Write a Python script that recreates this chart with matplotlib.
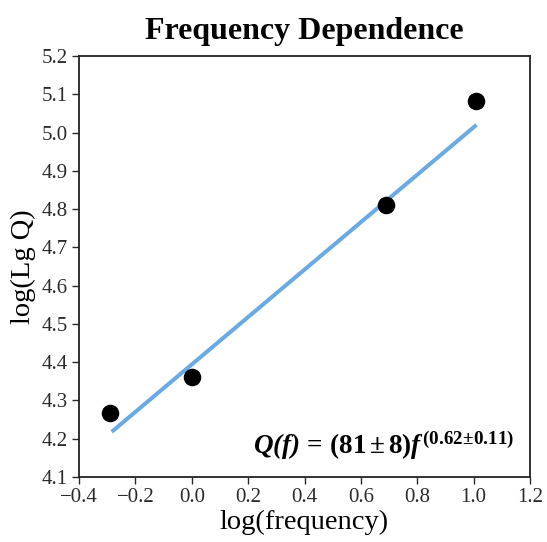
import numpy as np
import matplotlib
matplotlib.use('Agg')
import matplotlib.pyplot as plt

# Data
log_freq = [-0.29, 0.0, 0.69, 1.01]
log_q = [4.267, 4.361, 4.811, 5.082]
fit_x = [-0.284, 1.010]
fit_y = [4.218, 5.020]

xticks = [-0.4, -0.2, 0.0, 0.2, 0.4, 0.6, 0.8, 1.0, 1.2]
yticks = [4.1, 4.2, 4.3, 4.4, 4.5, 4.6, 4.7, 4.8, 4.9, 5.0, 5.1, 5.2]

plt.rcParams['font.family'] = ['Liberation Serif', 'DejaVu Serif']
plt.rcParams['mathtext.fontset'] = 'custom'
plt.rcParams['mathtext.rm'] = 'Liberation Serif'
plt.rcParams['mathtext.it'] = 'Liberation Serif:italic'
plt.rcParams['mathtext.bf'] = 'Liberation Serif:bold'
plt.rcParams['mathtext.bfit'] = 'Liberation Serif:bold:italic'

fig = plt.figure(figsize=(5.47, 5.42), dpi=100)
ax = fig.add_axes([0.1444, 0.1199, 0.8246, 0.7768])

ax.plot(fit_x, fit_y, color='#6AAAE4', lw=2.9, solid_capstyle='butt', zorder=2)
ax.scatter(log_freq, log_q, s=135, color='black', zorder=3)

ax.set_xlim(-0.4, 1.2)
ax.set_ylim(4.1, 5.2)
ax.set_xticks(xticks)
ax.set_yticks(yticks)
ax.set_xticklabels(['%.1f' % v if v >= 0 else '\u2212%.1f' % abs(v) for v in xticks])
ax.set_yticklabels(['%.1f' % v for v in yticks])
ax.tick_params(direction='out', length=5, width=1, labelsize=15, colors='#2a2a2a', pad=3)
for s in ax.spines.values():
    s.set_linewidth(1.3)
    s.set_color('#222222')

ax.set_xlabel('log(frequency)', fontsize=20.5, labelpad=2)
ax.set_ylabel('log(Lg Q)', fontsize=20.5, labelpad=4)
ax.set_title('Frequency Dependence', fontsize=23, fontweight='bold', pad=12)

ax.text(0.965, 0.035,
        r'$\mathbfit{Q(f)}\mathbf{\,=\,(81\pm8)}\mathbfit{f}^{\,\mathbf{(0.62\!\pm\!0.11)}}$',
        transform=ax.transAxes, ha='right', va='bottom', fontsize=19.5)

fig.savefig('out.png', dpi=100)
